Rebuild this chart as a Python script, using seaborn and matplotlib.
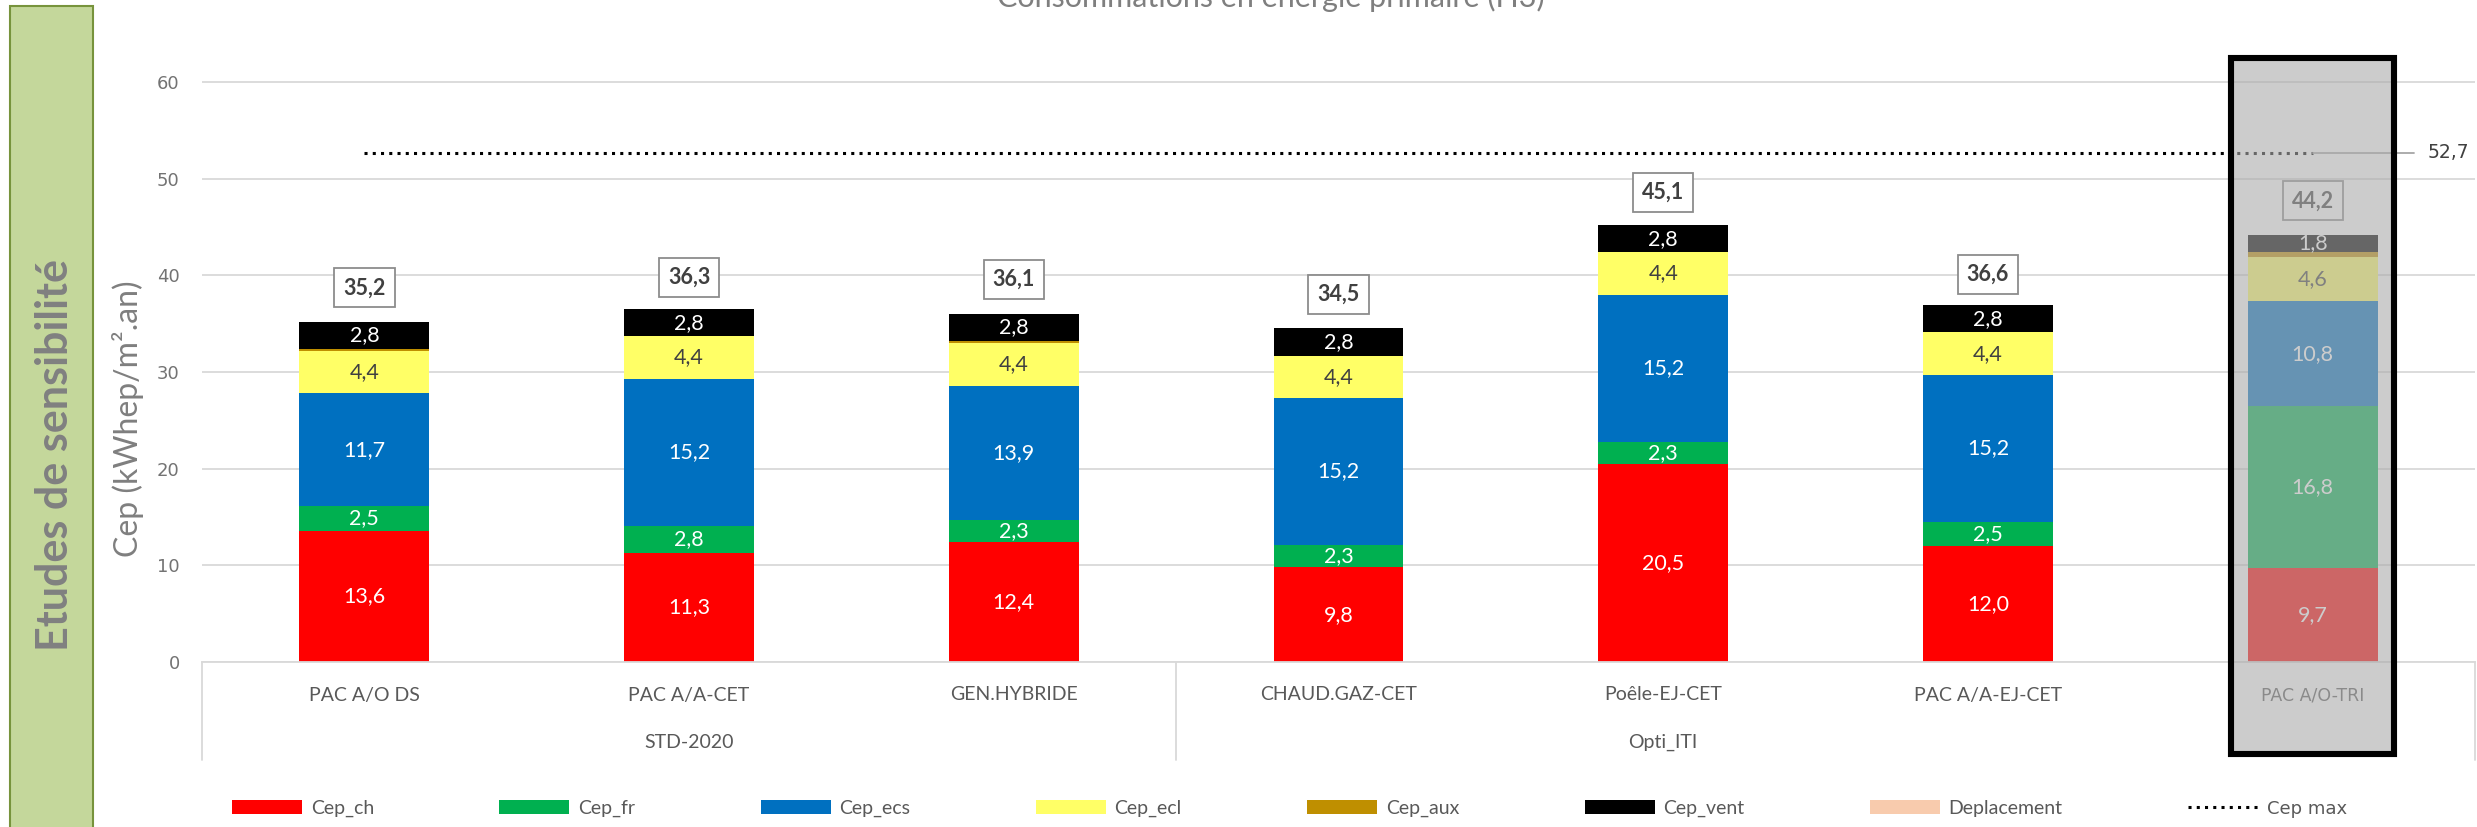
import matplotlib
matplotlib.use("Agg")
import matplotlib.pyplot as plt
from matplotlib.patches import Rectangle, Patch
from matplotlib.lines import Line2D
import seaborn as sns
import numpy as np
import pandas as pd

# ---- data -------------------------------------------------------------
systems = ["PAC A/O DS", "PAC A/A-CET", "GEN.HYBRIDE", "CHAUD.GAZ-CET",
           "Poêle-EJ-CET", "PAC A/A-EJ-CET", "PAC A/O-TRI"]
groups = ["STD-2020", "Opti_ITI", ""]
group_members = [[0, 1, 2], [3, 4, 5], [6]]

cep_ch = [13.6, 11.3, 12.4, 9.8, 20.5, 12.0, 9.7]
cep_fr = [2.5, 2.8, 2.3, 2.3, 2.3, 2.5, 16.8]
cep_ecs = [11.7, 15.2, 13.9, 15.2, 15.2, 15.2, 10.8]
cep_ecl = [4.4, 4.4, 4.4, 4.4, 4.4, 4.4, 4.6]
cep_aux = [0.2, 0.0, 0.2, 0.0, 0.0, 0.0, 0.5]
cep_vent = [2.8, 2.8, 2.8, 2.8, 2.8, 2.8, 1.8]
deplacement = [0.0, 0.0, 0.0, 0.0, 0.0, 0.0, 0.0]
totals = [35.2, 36.3, 36.1, 34.5, 45.1, 36.6, 44.2]
cep_max = 52.7

series_names = ["Cep_ch", "Cep_fr", "Cep_ecs", "Cep_ecl", "Cep_aux",
                "Cep_vent", "Deplacement"]
series_values = [cep_ch, cep_fr, cep_ecs, cep_ecl, cep_aux, cep_vent, deplacement]
series_colors = ["#FF0000", "#00B050", "#0070C0", "#FFFF66", "#BF8F00",
                 "#000000", "#F8CBAD"]
label_colors = ["white", "white", "white", "#404040", None, "white", None]

# ---- layout -----------------------------------------------------------
W, H = 2477, 827
sns.set_theme(style="white")
NARROW = "Lato"
WIDE = "DejaVu Sans"
plt.rcParams["font.family"] = [NARROW, "DejaVu Sans"]

fig = plt.figure(figsize=(W / 100, H / 100), dpi=100)
fig.patch.set_facecolor("white")

y_top = 60.4
px_per_unit = 580 / 60
ax_h = y_top * px_per_unit
ax = fig.add_axes([202 / W, 1 - 662 / H, (2475 - 202) / W, ax_h / H])

n = len(systems)
bottom = np.zeros(n)
for name, vals, col, tcol in zip(series_names, series_values, series_colors, label_colors):
    df = pd.DataFrame({"system": systems, "value": vals})
    sns.barplot(data=df, x="system", y="value", order=systems, color=col,
                saturation=1, width=0.4, bottom=bottom.copy(), ax=ax,
                edgecolor="none", linewidth=0, errorbar=None, zorder=2)
    if tcol is not None:
        for i, v in enumerate(vals):
            if v > 0:
                ax.text(i, bottom[i] + v / 2, f"{v:.1f}".replace(".", ","),
                        ha="center", va="center", color=tcol, fontsize=15.5,
                        family=NARROW, zorder=5)
    bottom += np.array(vals)

# totals above the stacks
for i, t in enumerate(totals):
    ax.text(i, t + 3.5, f"{t:.1f}".replace(".", ","), ha="center", va="center",
            fontsize=15.5, fontweight="bold", color="#404040", family=NARROW, zorder=6,
            bbox=dict(boxstyle="square,pad=0.42", fc="white", ec="#8C8C8C", lw=1.3))

# Cep max reference line with its value label
ax.plot([0, n - 1], [cep_max, cep_max], color="black", lw=2.2,
        linestyle=(0, (1, 1.7)), zorder=4)
ax.plot([n - 1, n - 1 + (2413 - 2312) / 324.7], [cep_max, cep_max],
        color="#A6A6A6", lw=1.3, zorder=4, clip_on=False)
ax.text(n - 1 + (2427 - 2312) / 324.7, cep_max, "52,7", ha="left", va="center",
        fontsize=13.5, color="#404040", family=WIDE, zorder=5)

# axes styling
ax.set_xlim(-0.5, n - 0.5)
ax.set_ylim(0, y_top)
ax.set_yticks(range(0, 61, 10))
ax.set_yticklabels([str(v) for v in range(0, 61, 10)], family=WIDE,
                   fontsize=13, color="#737373")
ax.tick_params(axis="y", length=0, pad=16)
ax.tick_params(axis="x", length=0, labelbottom=False)
ax.set_xlabel("")
ax.set_ylabel("")
ax.yaxis.grid(True, color="#D9D9D9", lw=1.3)
ax.set_axisbelow(True)
for s in ["top", "right", "left"]:
    ax.spines[s].set_visible(False)
ax.spines["bottom"].set_color("#D9D9D9")
ax.spines["bottom"].set_linewidth(1.3)

# two-level category axis
tr = ax.get_xaxis_transform()
ax_px = ax_h
for i, s in enumerate(systems):
    fam = WIDE if i == n - 1 else NARROW
    fs = 12.5 if i == n - 1 else 14
    ax.text(i, -33 / ax_px, s, transform=tr, ha="center", va="center",
            fontsize=fs, color="#595959", family=fam, zorder=3, clip_on=False)
for g, members in zip(groups, group_members):
    if g:
        ax.text(np.mean(members), -80 / ax_px, g, transform=tr, ha="center",
                va="center", fontsize=14, color="#595959", family=NARROW,
                zorder=3, clip_on=False)
for xb in [-0.5, 2.5, n - 0.5]:
    ax.plot([xb, xb], [0, -98 / ax_px], transform=tr, color="#D9D9D9", lw=1.3,
            clip_on=False, zorder=1)

# highlighted configuration (greyed out with a heavy frame)
x0 = (2231 - 202) / 324.7 - 0.5
x1 = (2394 - 202) / 324.7 - 0.5
y0 = -(754 - 662) / px_per_unit
y1 = (662 - 58) / px_per_unit
ax.add_patch(Rectangle((x0, y0), x1 - x0, y1 - y0, facecolor=(0.671, 0.671, 0.671, 0.6),
                       edgecolor="black", lw=4.4, clip_on=False, zorder=20))

# legend
handles = [Patch(facecolor=c, edgecolor="none") for c in series_colors]
handles.append(Line2D([], [], color="black", lw=2.2, linestyle=(0, (1, 1.7))))
labels = series_names + ["Cep max"]
leg = fig.legend(handles, labels, ncol=8, loc="center left",
                 bbox_to_anchor=(232 / W, 1 - 809 / H), frameon=False,
                 prop={"family": NARROW, "size": 14}, handlelength=3.6,
                 handleheight=0.7, handletextpad=0.45, columnspacing=6.45,
                 borderpad=0, borderaxespad=0)
for t in leg.get_texts():
    t.set_color("#595959")
leg.get_texts()[-1].set_family(WIDE)
leg.get_texts()[-1].set_fontsize(13)

# side banner
fig.patches.append(Rectangle((10 / W, -0.05), 83 / W, 1.05 - 6 / H,
                             transform=fig.transFigure, facecolor="#C4D79B",
                             edgecolor="#77933C", lw=1.5, zorder=0))
fig.text(55 / W, 1 - 455 / H, "Etudes de sensibilité", rotation=90,
         ha="center", va="center", fontsize=31, fontweight="bold",
         color="#808080", family=NARROW)

# axis title
fig.text(128 / W, 1 - 419 / H, "Cep (kWhep/m².an)", rotation=90, ha="center",
         va="center", fontsize=23, color="#7F7F7F", family=NARROW)

# chart title (top edge of the figure)
fig.text(1271 / W, 1 - 7 / H, "Consommations en énergie primaire (H3)",
         ha="center", va="baseline", fontsize=22, color="#7F7F7F", family=NARROW)

fig.savefig("out.png", dpi=100, facecolor="white")
